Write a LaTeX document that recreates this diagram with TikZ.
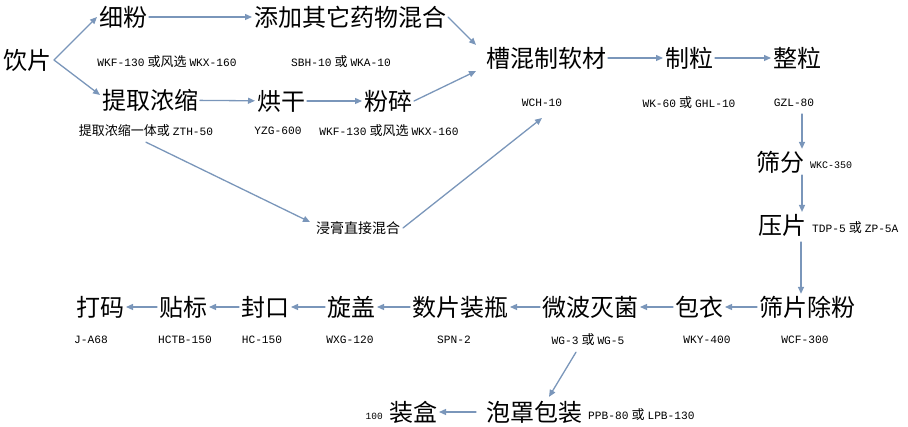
\documentclass[tikz,border=0pt]{standalone}
\usepackage{fontspec}
\usetikzlibrary{arrows.meta,positioning}
\newfontfamily\cjk{Noto Sans CJK SC}
\newfontfamily\codefont{Liberation Mono}
\newcommand\zh[1]{\hspace{3pt}{\cjk\fontsize{13}{13}\selectfont #1}\hspace{3pt}}
\newcommand\zhend[1]{{\cjk\fontsize{13}{13}\selectfont #1}\hspace{3pt}}
\definecolor{flowblue}{RGB}{122,150,186}
\tikzset{
  proc/.style={font=\cjk\fontsize{24}{24}\selectfont,inner sep=0pt,outer sep=2pt},
  mini/.style={font=\cjk\fontsize{14}{15}\selectfont,inner sep=1pt,outer sep=2pt},
  code/.style={font=\codefont\fontsize{11.2}{12}\selectfont,inner sep=1pt},
  flow/.style={draw=flowblue,line width=1.3pt,-{Triangle[length=7pt,width=6pt]}}
}
\begin{document}
\begin{tikzpicture}[x=1pt,y=-1pt,line cap=round,line join=round]
  \useasboundingbox (0,0) rectangle (908,427);
  % steps
  \node[proc] (yinpian)  at (28,60)   {饮片};
  \node[proc] (xifen)    at (123,17)  {细粉};
  \node[proc] (tianjia)  at (350,17)  {添加其它药物混合};
  \node[proc] (tiqu)     at (150,100) {提取浓缩};
  \node[proc] (honggan)  at (281,101) {烘干};
  \node[proc] (fensui)   at (388,101) {粉碎};
  \node[mini] (jingao)   at (358,228) {浸膏直接混合};
  \node[proc] (caohun)   at (546,58)  {槽混制软材};
  \node[proc] (zhili)    at (689,58)  {制粒};
  \node[proc] (zhengli)  at (797,58)  {整粒};
  \node[proc] (shaifen)  at (780,162) {筛分};
  \node[proc] (yapian)   at (782,225) {压片};
  \node[proc] (shaipian) at (807,307) {筛片除粉};
  \node[proc] (baoyi)    at (699,307) {包衣};
  \node[proc] (weibo)    at (590,307) {微波灭菌};
  \node[proc] (shupian)  at (460,307) {数片装瓶};
  \node[proc] (xuangai)  at (351,307) {旋盖};
  \node[proc] (fengkou)  at (265,307) {封口};
  \node[proc] (tiebiao)  at (183,307) {贴标};
  \node[proc] (dama)     at (100,307) {打码};
  \node[proc] (paozhao)  at (534,412) {泡罩包装};
  \node[proc] (zhuanghe) at (413,412) {装盒};
  % machines
  \node[code] (l-xifen)    at (167,62)  {WKF-130\zh{或风选}WKX-160};
  \node[code] (l-tianjia)  at (341,62)  {SBH-10\zh{或}WKA-10};
  \node[code] (l-tiqu)     at (146,131) {\zhend{提取浓缩一体或}ZTH-50};
  \node[code] (l-honggan)  at (278,131) {YZG-600};
  \node[code] (l-fensui)   at (389,131) {WKF-130\zh{或风选}WKX-160};
  \node[code] (l-caohun)   at (542,103) {WCH-10};
  \node[code] (l-zhili)    at (689,103) {WK-60\zh{或}GHL-10};
  \node[code] (l-zhengli)  at (794,103) {GZL-80};
  \node[code,font=\codefont\fontsize{10}{11}\selectfont,right=3pt of shaifen,yshift=-3pt] (l-shaifen) {WKC-350};
  \node[code,right=3pt of yapian,yshift=-3pt] (l-yapian) {TDP-5\zh{或}ZP-5A};
  \node[code] (l-shaipian) at (805,340) {WCF-300};
  \node[code] (l-baoyi)    at (707,340) {WKY-400};
  \node[code] (l-weibo)    at (588,340) {WG-3\zh{或}WG-5};
  \node[code] (l-shupian)  at (454,340) {SPN-2};
  \node[code] (l-xuangai)  at (350,340) {WXG-120};
  \node[code] (l-fengkou)  at (262,340) {HC-150};
  \node[code] (l-tiebiao)  at (185,340) {HCTB-150};
  \node[code] (l-dama)     at (91,340)  {J-A68};
  \node[code,right=3pt of paozhao,yshift=-3pt] (l-paozhao) {PPB-80\zh{或}LPB-130};
  \node[code,font=\codefont\fontsize{9.5}{10}\selectfont,left=3pt of zhuanghe,yshift=-4pt] (l-zhuanghe) {100};
  % flow
  \draw[flow] (yinpian.east) -- (xifen.west);
  \draw[flow] (yinpian.east) -- ([yshift=5pt]tiqu.west);
  \draw[flow] (xifen) -- (tianjia);
  \draw[flow] (tianjia.east) -- ([xshift=-8pt]caohun.north west);
  \draw[flow] (tiqu) -- (honggan);
  \draw[flow] (honggan) -- (fensui);
  \draw[flow] (fensui.east) -- ([xshift=-8pt]caohun.south west);
  \draw[flow] ([yshift=-4pt]l-tiqu.south) -- ([xshift=-3pt,yshift=6pt]jingao.west);
  \draw[flow] (jingao.east) -- ([yshift=-10pt]l-caohun.south);
  \draw[flow] (caohun) -- (zhili);
  \draw[flow] (zhili) -- (zhengli);
  \draw[flow] ([xshift=8pt,yshift=-6pt]l-zhengli.south) -- ([xshift=22pt]shaifen.north);
  \draw[flow] ([xshift=22pt]shaifen.south) -- ([xshift=20pt]yapian.north);
  \draw[flow] ([xshift=19pt,yshift=-4pt]yapian.south) -- ([xshift=-6pt]shaipian.north);
  \draw[flow] (shaipian) -- (baoyi);
  \draw[flow] (baoyi) -- (weibo);
  \draw[flow] (weibo) -- (shupian);
  \draw[flow] (shupian) -- (xuangai);
  \draw[flow] (xuangai) -- (fengkou);
  \draw[flow] (fengkou) -- (tiebiao);
  \draw[flow] (tiebiao) -- (dama);
  \draw[flow] ([xshift=-12pt,yshift=-5pt]l-weibo.south) -- ([xshift=15pt,yshift=2pt]paozhao.north);
  \draw[flow] ([xshift=-8pt]paozhao.west) -- (zhuanghe);
\end{tikzpicture}
\end{document}
